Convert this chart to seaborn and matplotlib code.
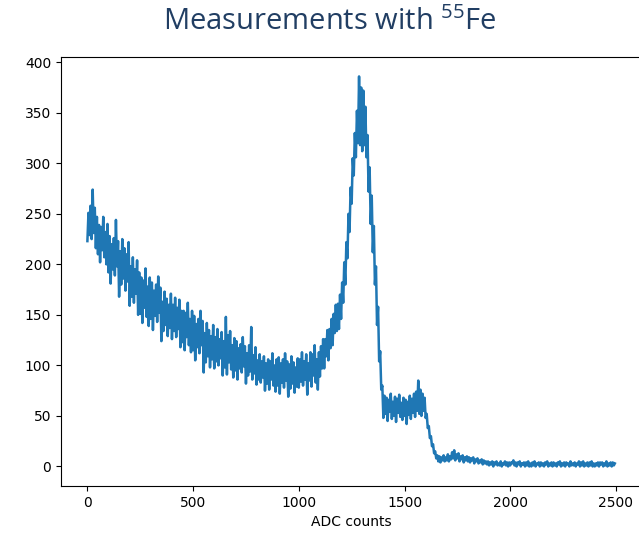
import numpy as np
import pandas as pd
import matplotlib.pyplot as plt
import seaborn as sns

# ADC spectrum, one value every 5 ADC counts
adc_step = 5
counts = [
    223, 251, 229, 258, 225, 274, 231, 256, 216, 247, 210, 239, 202, 237, 214, 247, 207, 232, 200, 240,
    192, 228, 181, 220, 195, 226, 189, 244, 198, 223, 168, 213, 180, 225, 186, 216, 174, 210, 183, 222,
    159, 198, 168, 207, 162, 195, 171, 204, 150, 192, 151, 187, 142, 184, 157, 196, 148, 178, 139, 187,
    146, 182, 135, 174, 149, 180, 143, 188, 152, 177, 124, 163, 134, 173, 140, 166, 129, 160, 137, 171,
    126, 160, 134, 167, 128, 157, 136, 165, 118, 154, 123, 154, 115, 152, 128, 162, 120, 146, 113, 154,
    115, 149, 105, 141, 118, 146, 112, 154, 120, 144, 93, 132, 103, 142, 109, 135, 98, 129, 106, 140,
    97, 128, 104, 136, 100, 126, 107, 133, 90, 124, 98, 148, 91, 130, 103, 134, 96, 120, 88, 127,
    95, 124, 86, 117, 97, 121, 93, 128, 99, 119, 82, 112, 90, 120, 94, 138, 86, 110, 92, 118,
    81, 105, 86, 111, 83, 104, 88, 109, 75, 102, 82, 106, 76, 104, 86, 112, 80, 100, 74, 106,
    80, 108, 72, 102, 83, 106, 78, 112, 85, 104, 69, 101, 77, 109, 82, 103, 73, 98, 79, 107,
    78, 106, 84, 113, 80, 104, 86, 111, 71, 102, 85, 113, 79, 111, 90, 120, 83, 106, 76, 113,
    89, 119, 97, 126, 97, 126, 109, 135, 105, 136, 117, 146, 120, 151, 132, 160, 134, 161, 136, 170,
    146, 182, 162, 202, 180, 222, 206, 250, 232, 276, 260, 305, 288, 330, 306, 352, 320, 386, 318, 375,
    312, 372, 318, 356, 306, 328, 272, 296, 240, 268, 212, 238, 180, 198, 140, 158, 104, 114, 76, 80,
    48, 70, 52, 68, 45, 66, 54, 72, 47, 64, 50, 69, 44, 67, 53, 71, 49, 63, 46, 68,
    50, 66, 42, 64, 51, 70, 47, 67, 53, 72, 49, 74, 55, 85, 52, 76, 50, 72, 55, 68,
    48, 52, 38, 40, 28, 30, 20, 22, 13, 15, 8, 11, 5, 10, 4, 9, 6, 11, 5, 9,
    6, 12, 5, 10, 7, 14, 8, 16, 6, 12, 8, 13, 5, 10, 7, 11, 4, 9, 6, 10,
    5, 9, 4, 8, 6, 9, 3, 7, 5, 8, 3, 6, 4, 7, 2, 6, 3, 5, 2, 5,
    1, 4, 2, 5, 0, 4, 2, 5, 1, 3, 1, 5, 0, 3, 2, 5, 1, 4, 0, 4,
    1, 4, 3, 6, 1, 4, 0, 4, 2, 5, 0, 3, 2, 4, 0, 4, 1, 5, 0, 3,
    0, 4, 1, 5, 0, 3, 2, 4, 0, 4, 1, 3, 0, 4, 2, 5, 0, 3, 1, 4,
    0, 4, 1, 3, 0, 4, 2, 5, 0, 3, 1, 4, 0, 4, 2, 3, 0, 5, 1, 3,
    1, 4, 0, 3, 2, 5, 0, 4, 1, 5, 0, 3, 1, 4, 0, 4, 1, 5, 0, 3,
    0, 3, 1, 4, 0, 4, 2, 4, 0, 3, 1, 5, 0, 3, 1, 4, 0, 4, 1, 3,
]
adc = np.arange(len(counts)) * adc_step

df = pd.DataFrame({"adc": adc, "counts": counts})

plt.rcParams["mathtext.fontset"] = "custom"
plt.rcParams["mathtext.rm"] = "Open Sans"

fig = plt.figure(figsize=(6.39, 5.34), dpi=100)
ax = fig.add_axes([0.0955, 0.09, 0.908, 0.8034])
sns.lineplot(data=df, x="adc", y="counts", ax=ax, color="#1f77b4", linewidth=1.8)
ax.set_xlabel("ADC counts")
ax.set_ylabel("")

fig.text(0.516, 0.958, r"Measurements with $^{\mathrm{55}}$Fe", ha="center", va="center",
         fontsize=21, family="Open Sans", color="#213e63")

plt.savefig("out.png", dpi=100)
